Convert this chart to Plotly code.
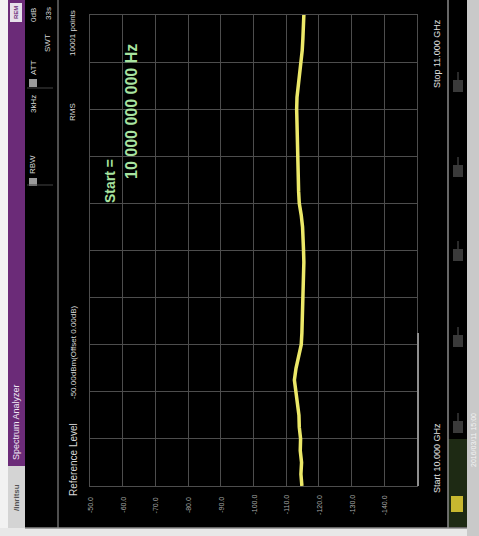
import plotly.graph_objects as go

# ---- data ----
freq_ghz = [10.000, 10.025, 10.050, 10.075, 10.100, 10.125, 10.150, 10.175, 10.200, 10.225,
            10.250, 10.275, 10.300, 10.325, 10.350, 10.375, 10.400, 10.425, 10.450, 10.475,
            10.500, 10.525, 10.550, 10.575, 10.600, 10.625, 10.650, 10.675, 10.700, 10.725,
            10.750, 10.775, 10.800, 10.825, 10.850, 10.875, 10.900, 10.925, 10.950, 10.975, 11.000]
level_dbm = [-114.8, -114.5, -114.7, -114.3, -114.4, -114.0, -113.9, -113.5, -113.1, -112.5,
             -113.0, -113.9, -114.6, -114.8, -114.9, -115.1, -115.0, -115.3, -115.2, -115.4,
             -115.3, -115.2, -115.0, -114.6, -114.0, -113.8, -113.7, -113.5, -113.6, -113.4,
             -113.3, -113.2, -113.2, -113.3, -113.7, -114.2, -114.6, -114.9, -115.1, -115.3, -115.4]
level_ticks = [-50, -60, -70, -80, -90, -100, -110, -120, -130, -140]
level_tick_text = ["-50.0", "-60.0", "-70.0", "-80.0", "-90.0", "-100.0", "-110.0", "-120.0", "-130.0", "-140.0"]
freq_grid = [10.0, 10.1, 10.2, 10.3, 10.4, 10.5, 10.6, 10.7, 10.8, 10.9, 11.0]

W, H = 479, 536
def px(x):
    return x / W
def py(y):
    return 1 - y / H

FONT = "Liberation Sans, Arial, sans-serif"

fig = go.Figure()
fig.add_trace(go.Scatter(
    x=level_dbm, y=freq_ghz, mode="lines",
    line=dict(color="#ece868", width=3.5), hoverinfo="skip", showlegend=False))

fig.update_layout(
    width=W, height=H, margin=dict(l=0, r=0, t=0, b=0),
    paper_bgcolor="#000000", plot_bgcolor="#000000",
    xaxis=dict(domain=[px(90), px(417)], range=[-50, -150], tickvals=level_ticks + [-150],
               showticklabels=False, showgrid=True, gridcolor="#4d4d4d", gridwidth=1,
               zeroline=False, showline=True, mirror=True, linecolor="#4d4d4d", linewidth=1),
    yaxis=dict(domain=[py(486), py(15)], range=[10.0, 11.0], tickvals=freq_grid,
               showticklabels=False, showgrid=True, gridcolor="#4d4d4d", gridwidth=1,
               zeroline=False, showline=True, mirror=True, linecolor="#4d4d4d", linewidth=1),
)

# amplitude tick labels (rotated, below plot)
for v, t in zip(level_ticks, level_tick_text):
    fig.add_annotation(x=v, y=py(505), xref="x", yref="paper", text=t, textangle=-90,
                       xanchor="center", yanchor="middle",
                       showarrow=False, font=dict(family=FONT, size=7, color="#a8a8a8"))

shapes = []
def rect(x0, y0, x1, y1, color, line=None):
    shapes.append(dict(type="rect", xref="paper", yref="paper", x0=px(x0), x1=px(x1),
                       y0=py(y1), y1=py(y0), fillcolor=color,
                       line=dict(width=0) if line is None else line, layer="below"))
def seg(x0, y0, x1, y1, color, w=1):
    shapes.append(dict(type="line", xref="paper", yref="paper", x0=px(x0), x1=px(x1),
                       y0=py(y0), y1=py(y1), line=dict(color=color, width=w)))

# outer strips
rect(0, 0, 8, 536, "#f2f2f2")
rect(8, 0, 25, 466, "#6b2b78")
rect(8, 466, 25, 530, "#d4d4d4")
rect(10, 3, 22, 22, "#e6e0ea")
rect(0, 528, 479, 536, "#e8e8e8")
rect(467, 0, 479, 536, "#c9c9c9")
rect(448, 439, 467, 527, "#1e2a14")

# separators
seg(58, 0, 58, 528, "#6a6a6a", 1.5)
seg(448, 0, 448, 528, "#8a8a8a", 1.5)
seg(25, 528, 467, 528, "#8a8a8a", 1.5)
seg(27, 88, 53, 88, "#444444")
seg(27, 185, 53, 185, "#444444")
seg(418, 333, 418, 486, "#8f8f8f", 2)

# header checkbox icons
rect(29, 178, 37, 186, "#9a9a9a")
rect(29, 79, 37, 87, "#9a9a9a")

# softkey icons on right
for yc in [86, 171, 255, 341, 427]:
    rect(453, yc - 6, 463, yc + 6, "#3a3a3a")
    seg(458, yc - 14, 458, yc - 6, "#555555")
rect(451, 496, 463, 512, "#c8b830")

fig.update_layout(shapes=shapes)

def txt(x, y, s, size=9, color="#d8d8d8", bold=False, family=FONT):
    fig.add_annotation(x=px(x), y=py(y), xref="paper", yref="paper",
                       xanchor="center", yanchor="middle",
                       text=("<b>%s</b>" % s) if bold else s, textangle=-90, showarrow=False,
                       font=dict(family=family, size=size, color=color))

txt(16, 422, "Spectrum Analyzer", 9, "#f0e8f4")
txt(16, 497, "/inritsu", 8, "#555555", bold=True)
txt(16, 12, "REM", 6, "#6b2b78", bold=True)
txt(33, 165, "RBW", 8)
txt(33, 104, "3kHz", 8)
txt(33, 68, "ATT", 8)
txt(33, 15, "0dB", 8)
txt(48, 43, "SWT", 8)
txt(48, 14, "33s", 8)
txt(73, 460, "Reference Level", 10)
txt(73, 352, "-50.00dBm(Offset 0.00dB)", 8)
txt(73, 112, "RMS", 8)
txt(73, 33, "10001 points", 8)
txt(110, 181, "Start =", 14, "#a8e4a0", bold=True)
txt(132, 112, "10 000 000 000 Hz", 16, "#a8e4a0", bold=True)
txt(437, 458, "Start 10.000 GHz", 9, "#e0e0e0")
txt(437, 54, "Stop 11.000 GHz", 9, "#e0e0e0")
txt(473, 440, "2016/03/11 15:00", 7, "#f4f4f4")

fig.write_html("out.html", config={"displayModeBar": False},
               post_script="document.body.style.margin='0px';document.body.style.overflow='hidden';")
